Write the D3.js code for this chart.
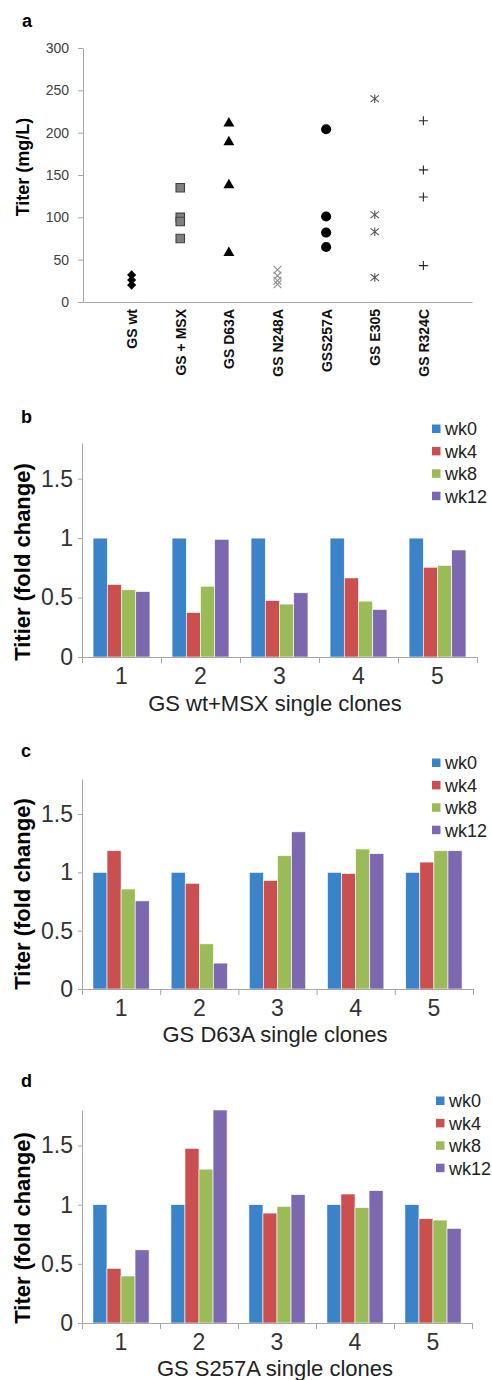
<!DOCTYPE html>
<html>
<head>
<meta charset="utf-8">
<script src="https://cdn.jsdelivr.net/npm/d3@7"></script>
<style>
  body { margin: 0; background: #fff; }
  text { font-family: "Liberation Sans", Arial, sans-serif; }
</style>
</head>
<body>
<script>
// panel a: titer per construct
var groups = ["GS wt", "GS + MSX", "GS D63A", "GS N248A", "GSS257A", "GS E305", "GS R324C"];
var titerWt = [32, 26, 20];
var titerMsx = [135, 100, 95, 75];
var titerD63A = [211, 189, 138, 58];
var titerN248A = [38, 31, 25, 21];
var titerS257A = [204, 101, 82, 65];
var titerE305 = [240, 103, 83, 29];
var titerR324C = [214, 156, 124, 43];
var titerTicks = [0, 50, 100, 150, 200, 250, 300];

// panels b-d: fold change, one row per clone, columns = weeks
var clones = ["1", "2", "3", "4", "5"];
var weeks = ["wk0", "wk4", "wk8", "wk12"];
var foldTicks = [0, 0.5, 1, 1.5];
var msxFold = [
  [1, 0.61, 0.565, 0.55],
  [1, 0.375, 0.595, 0.99],
  [1, 0.475, 0.445, 0.54],
  [1, 0.665, 0.47, 0.40],
  [1, 0.755, 0.77, 0.90]
];
var d63aFold = [
  [1, 1.185, 0.857, 0.755],
  [1, 0.906, 0.387, 0.222],
  [1, 0.93, 1.142, 1.347],
  [1, 0.99, 1.2, 1.16],
  [1, 1.088, 1.185, 1.185]
];
var s257aFold = [
  [1, 0.462, 0.397, 0.618],
  [1, 1.476, 1.3, 1.8],
  [1, 0.929, 0.986, 1.085],
  [1, 1.09, 0.975, 1.119],
  [1, 0.881, 0.87, 0.799]
];

var weekColors = ["#3b83c8", "#c9504f", "#9bbb59", "#7b68ae"];
var axisColor = "#a6a6a6";

var svg = d3.select("body").append("svg")
  .attr("width", 492)
  .attr("height", 1380);

// ---------- panel a ----------
var ax = d3.scalePoint().domain(groups).range([83, 472]).padding(1);
var ay = d3.scaleLinear().domain([0, 300]).range([302, 48]);

svg.append("text").attr("x", 22).attr("y", 27)
  .attr("font-size", 18).attr("font-weight", "bold").text("a");

var gy = svg.append("g").attr("transform", "translate(83,0)")
  .call(d3.axisLeft(ay).tickValues(titerTicks).tickSize(5).tickPadding(9).tickSizeOuter(0));
gy.selectAll("path, line").attr("stroke", axisColor);
gy.selectAll("text").attr("font-size", 14).attr("fill", "#404040")
  .style("font-family", "'Liberation Sans', Arial, sans-serif");

var gx = svg.append("g").attr("transform", "translate(0,302)")
  .call(d3.axisBottom(ax).tickSize(0).tickSizeOuter(0));
gx.select(".domain").attr("stroke", axisColor);
gx.selectAll("text")
  .attr("transform", "rotate(-90)")
  .attr("text-anchor", "end")
  .attr("x", -7).attr("y", 0).attr("dy", "0.36em")
  .attr("font-size", 14).attr("font-weight", "bold").attr("fill", "#111")
  .style("font-family", "'Liberation Sans', Arial, sans-serif");

svg.append("text")
  .attr("transform", "translate(29,167) rotate(-90)")
  .attr("text-anchor", "middle")
  .attr("font-size", 18).attr("font-weight", "bold")
  .text("Titer (mg/L)");

// custom stroke markers
var plusType = { draw: function(p, s) { var r = Math.sqrt(s) / 2; p.moveTo(-r, 0); p.lineTo(r, 0); p.moveTo(0, -r); p.lineTo(0, r); } };
var timesType = { draw: function(p, s) { var r = Math.sqrt(s) / 2; p.moveTo(-r, -r); p.lineTo(r, r); p.moveTo(-r, r); p.lineTo(r, -r); } };
var starType = { draw: function(p, s) { var r = Math.sqrt(s) / 2; p.moveTo(-r, -r * 0.8); p.lineTo(r, r * 0.8); p.moveTo(-r, r * 0.8); p.lineTo(r, -r * 0.8); p.moveTo(0, -r); p.lineTo(0, r); } };

var markerSets = [
  { name: groups[0], vals: titerWt, type: d3.symbolSquare, size: 42, rot: 45, fill: "#000", stroke: "none" },
  { name: groups[1], vals: titerMsx, type: d3.symbolSquare, size: 72, rot: 0, fill: "#7f7f7f", stroke: "#404040" },
  { name: groups[2], vals: titerD63A, type: d3.symbolTriangle, size: 52, rot: 0, fill: "#000", stroke: "none" },
  { name: groups[3], vals: titerN248A, type: timesType, size: 60, rot: 0, fill: "none", stroke: "#8c8c8c" },
  { name: groups[4], vals: titerS257A, type: d3.symbolCircle, size: 80, rot: 0, fill: "#000", stroke: "none" },
  { name: groups[5], vals: titerE305, type: starType, size: 72, rot: 0, fill: "none", stroke: "#555" },
  { name: groups[6], vals: titerR324C, type: plusType, size: 80, rot: 0, fill: "none", stroke: "#222" }
];

markerSets.forEach(function(m) {
  svg.append("g").selectAll("path")
    .data(m.vals)
    .enter().append("path")
    .attr("d", d3.symbol().type(m.type).size(m.size))
    .attr("transform", function(d) { return "translate(" + ax(m.name) + "," + ay(d) + ") rotate(" + m.rot + ")"; })
    .attr("fill", m.fill)
    .attr("stroke", m.stroke)
    .attr("stroke-width", 1.1);
});

// ---------- panels b-d ----------
var barPanels = [
  { label: "b", labelY: 423, top: 443, bottom: 657, right: 477, data: msxFold,
    yTitle: "Titier (fold change)", xTitle: "GS wt+MSX single clones", xTitleY: 711, legX: 432, legY: 429 },
  { label: "c", labelY: 757, top: 779, bottom: 989, right: 473, data: d63aFold,
    yTitle: "Titer (fold change)", xTitle: "GS D63A single clones", xTitleY: 1042, legX: 432, legY: 763 },
  { label: "d", labelY: 1087, top: 1110, bottom: 1323, right: 472, data: s257aFold,
    yTitle: "Titer (fold change)", xTitle: "GS S257A single clones", xTitleY: 1376, legX: 436, legY: 1101 }
];

barPanels.forEach(drawBars);

function drawBars(cfg) {
  var left = 82;
  var x = d3.scaleBand().domain(clones).range([left, cfg.right]).paddingInner(0.28).paddingOuter(0.14);
  var xw = d3.scaleBand().domain(weeks).range([0, x.bandwidth()]);
  var y = d3.scaleLinear().domain([0, 1.8]).range([cfg.bottom, cfg.top]);
  var edges = d3.scaleLinear().domain([0, clones.length]).range([left, cfg.right]);

  var g = svg.append("g");

  g.append("text").attr("x", 21).attr("y", cfg.labelY)
    .attr("font-size", 18).attr("font-weight", "bold").text(cfg.label);

  var grp = g.selectAll(".clone")
    .data(cfg.data)
    .enter().append("g")
    .attr("class", "clone")
    .attr("transform", function(d, i) { return "translate(" + x(clones[i]) + ",0)"; });

  grp.selectAll("rect")
    .data(function(d) { return d; })
    .enter().append("rect")
    .attr("x", function(d, j) { return xw(weeks[j]); })
    .attr("width", xw.bandwidth())
    .attr("y", function(d) { return y(d); })
    .attr("height", function(d) { return y(0) - y(d); })
    .attr("fill", function(d, j) { return weekColors[j]; })
    .attr("stroke", "#fff")
    .attr("stroke-width", 0.6);

  var gy = g.append("g").attr("transform", "translate(" + left + ",0)")
    .call(d3.axisLeft(y).tickValues(foldTicks).tickFormat(function(d) { return d; })
      .tickSize(4).tickPadding(5).tickSizeOuter(0));
  gy.selectAll("path, line").attr("stroke", axisColor);
  gy.selectAll("text").attr("font-size", 23).attr("fill", "#333")
    .style("font-family", "'Liberation Sans', Arial, sans-serif");

  // boundary ticks between clones
  var gt = g.append("g").attr("transform", "translate(0," + cfg.bottom + ")")
    .call(d3.axisBottom(edges).ticks(clones.length).tickSize(6).tickFormat("").tickSizeOuter(0));
  gt.selectAll("path, line").attr("stroke", axisColor);

  var gx = g.append("g").attr("transform", "translate(0," + cfg.bottom + ")")
    .call(d3.axisBottom(x).tickSize(0).tickPadding(11));
  gx.select(".domain").remove();
  gx.selectAll("text").attr("font-size", 23).attr("fill", "#333")
    .style("font-family", "'Liberation Sans', Arial, sans-serif");

  g.append("text")
    .attr("transform", "translate(30," + (cfg.bottom - 95) + ") rotate(-90)")
    .attr("text-anchor", "middle")
    .attr("font-size", 22).attr("font-weight", "bold")
    .text(cfg.yTitle);

  g.append("text")
    .attr("x", 275).attr("y", cfg.xTitleY)
    .attr("text-anchor", "middle")
    .attr("font-size", 22).attr("fill", "#222")
    .text(cfg.xTitle);

  var leg = g.selectAll(".leg")
    .data(weeks)
    .enter().append("g")
    .attr("class", "leg")
    .attr("transform", function(d, i) { return "translate(" + cfg.legX + "," + (cfg.legY + i * 22.4) + ")"; });
  leg.append("rect").attr("x", 0).attr("y", -4.5).attr("width", 8.5).attr("height", 8.5)
    .attr("fill", function(d, i) { return weekColors[i]; });
  leg.append("text").attr("x", 13).attr("y", 0).attr("dy", "0.35em")
    .attr("font-size", 18).attr("fill", "#222")
    .text(function(d) { return d; });
}
</script>
</body>
</html>
